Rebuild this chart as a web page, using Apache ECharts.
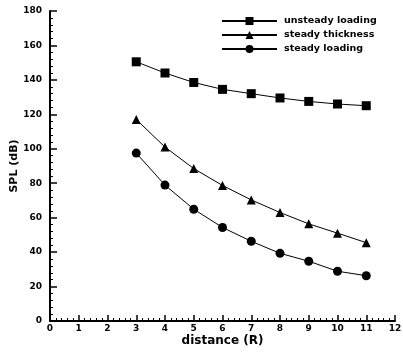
<!DOCTYPE html>
<html><head><meta charset="utf-8">
<script src="https://cdn.jsdelivr.net/npm/echarts@6/dist/echarts.min.js"></script>
<style>html,body{margin:0;padding:0;background:#fff}#c{width:403px;height:352px}</style>
</head><body><div id="c"></div>
<script>
const distance = [3, 4, 5, 6, 7, 8, 9, 10, 11];
const unsteadyLoading = [150.5, 144, 138.5, 134.5, 132, 129.5, 127.5, 126, 125];
const steadyThickness = [117, 101, 88.5, 78.7, 70.3, 63, 56.4, 51, 45.5];
const steadyLoading = [97.5, 78.9, 64.9, 54.3, 46.3, 39.3, 34.7, 28.9, 26.3];
const seriesNames = ['unsteady loading', 'steady thickness', 'steady loading'];
const symbols = ['rect', 'triangle', 'circle'];
const allValues = [unsteadyLoading, steadyThickness, steadyLoading];

const font = {fontFamily: 'DejaVu Sans', fontWeight: 'bold', color: '#000'};
const chart = echarts.init(document.getElementById('c'));
chart.setOption({
  animation: false,
  backgroundColor: '#fff',
  grid: {left: 50, right: 8, top: 11, bottom: 31, containLabel: false, outerBoundsMode: 'none'},
  legend: {
    left: 216, top: 11, orient: 'vertical', itemGap: 4,
    itemWidth: 55, itemHeight: 10,
    textStyle: Object.assign({fontSize: 9.5, padding: [0, 0, 0, 2]}, font),
    data: seriesNames
  },
  xAxis: {
    type: 'value', min: 0, max: 12, interval: 1,
    name: 'distance (R)', nameLocation: 'middle', nameGap: 14, nameMoveOverlap: false,
    nameTextStyle: Object.assign({fontSize: 12}, font),
    axisLine: {onZero: false, lineStyle: {color: '#000', width: 2}},
    axisTick: {inside: true, length: 6, lineStyle: {color: '#000', width: 1.5}},
    minorTick: {show: true, splitNumber: 5, length: 3, lineStyle: {color: '#000'}},
    axisLabel: Object.assign({fontSize: 9, margin: 3}, font),
    splitLine: {show: false}
  },
  yAxis: {
    type: 'value', min: 0, max: 180, interval: 20,
    name: 'SPL (dB)', nameLocation: 'middle', nameGap: 30, nameMoveOverlap: false,
    nameTextStyle: Object.assign({fontSize: 11}, font),
    axisLine: {onZero: false, lineStyle: {color: '#000', width: 2}},
    axisTick: {inside: true, length: 7, lineStyle: {color: '#000', width: 1.5}},
    minorTick: {show: true, splitNumber: 5, length: 3, lineStyle: {color: '#000'}},
    axisLabel: Object.assign({fontSize: 9, margin: 8}, font),
    splitLine: {show: false}
  },
  series: seriesNames.map((n, i) => ({
    name: n, type: 'line',
    data: distance.map((d, j) => [d, allValues[i][j]]),
    symbol: symbols[i], symbolSize: 9,
    lineStyle: {color: '#000', width: 1},
    itemStyle: {color: '#000'}
  }))
});
</script></body></html>
